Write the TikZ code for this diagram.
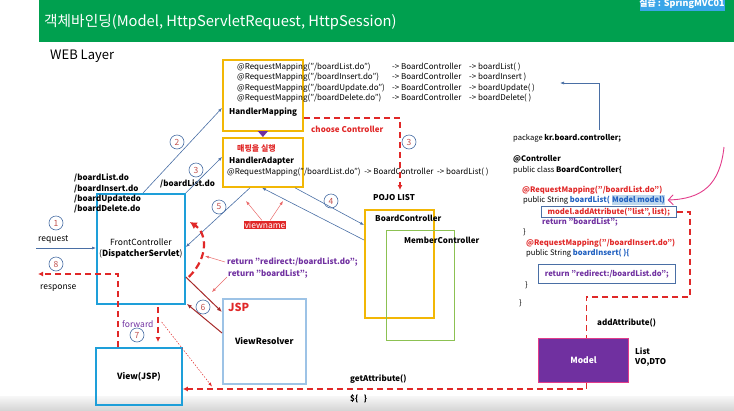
\documentclass[tikz,border=0pt]{standalone}
\usepackage{fontspec}
\setmainfont{Noto Sans CJK KR}
\usepackage{tikz}
\usetikzlibrary{arrows.meta,positioning,calc}
\definecolor{mvcGreen}{HTML}{00A04F}
\definecolor{mvcBadge}{HTML}{3AA5E8}
\definecolor{mvcGold}{HTML}{F2B705}
\definecolor{mvcFront}{HTML}{1E9FD9}
\definecolor{mvcResolver}{HTML}{9DC3E6}
\definecolor{mvcMember}{HTML}{8CC152}
\definecolor{mvcSteel}{HTML}{4A6FA5}
\definecolor{mvcRed}{HTML}{E02828}
\definecolor{mvcDark}{HTML}{A62A2A}
\definecolor{mvcPurple}{HTML}{7030A0}
\definecolor{mvcBlue}{HTML}{2060C0}
\definecolor{mvcPink}{HTML}{E23C8A}
\definecolor{mvcNum}{HTML}{C0504D}
\definecolor{mvcHilite}{HTML}{BDD7EE}
\tikzset{
  txt/.style={anchor=west, inner sep=0pt, font=\fontsize{8}{10}\selectfont},
  btxt/.style={txt, font=\fontsize{8}{10}\selectfont\bfseries},
  code/.style={txt, font=\fontsize{7.6}{10}\selectfont},
  bcode/.style={txt, font=\fontsize{7.6}{10}\selectfont\bfseries},
  box/.style={draw, inner sep=0pt, anchor=north west},
  goldbox/.style={box, draw=mvcGold, line width=1.8pt},
  frontbox/.style={box, draw=mvcFront, line width=1.8pt, font=\fontsize{8.5}{11}\selectfont, align=center},
  resbox/.style={box, draw=mvcResolver, line width=1.5pt, font=\fontsize{8.5}{11}\selectfont\bfseries},
  membox/.style={box, draw=mvcMember, line width=1.4pt},
  modelbox/.style={box, fill=mvcPurple, draw=mvcPink, line width=1pt, text=white, font=\fontsize{8.5}{11}\selectfont\bfseries},
  codebox/.style={draw=mvcSteel, line width=0.6pt, anchor=west, inner xsep=4pt, font=\fontsize{7.6}{10}\selectfont\bfseries},
  num/.style={circle, draw=mvcSteel, line width=0.6pt, minimum size=14pt, inner sep=0pt, text=mvcNum, font=\fontsize{8.5}{9}\selectfont},
  call/.style={-{Latex[length=4pt,width=3pt]}, mvcSteel, line width=0.6pt},
  choose/.style={-{Latex[length=5pt,width=5pt]}, mvcRed, line width=1.3pt, dash pattern=on 6pt off 4pt},
  bigdash/.style={-{Latex[length=7pt,width=8pt]}, mvcRed, line width=2.2pt, dash pattern=on 7pt off 4pt},
  darkarrow/.style={-{Latex[length=5pt,width=4pt]}, mvcDark, line width=1pt},
  hint/.style={-{Latex[length=4pt,width=3pt]}, mvcRed!70, line width=0.5pt},
  dots/.style={-{Latex[length=4pt,width=3pt]}, mvcRed, line width=0.5pt, dash pattern=on 1.5pt off 1.5pt},
}
\begin{document}
\begin{tikzpicture}[x=1pt, y=-1pt]
  \useasboundingbox (0,0) rectangle (734,410);
  \shade[top color=black!3, bottom color=black!16] (0,396) rectangle (734,410);

  % header
  \fill[mvcGreen] (39,0) rectangle (734,42);
  \fill[mvcBadge] (640,0) rectangle (725,11);
  \node[font=\fontsize{9}{9}\selectfont\bfseries, text=white, inner sep=0pt] (badge) at (682,3.5) {실습 : SpringMVC01};
  \node[txt, font=\fontsize{14.7}{15}\selectfont, text=white] (title) at (44,22) {객체바인딩(Model, HttpServletRequest, HttpSession)};
  \node[txt, font=\fontsize{13}{13}\selectfont] (layer) at (50,56) {WEB Layer};

  % handler mapping / adapter
  \node[goldbox, minimum width=80pt, minimum height=71pt] (hm) at (222,59) {};
  \node[goldbox, minimum width=80pt, minimum height=49pt] (ha) at (222,137) {};
  \node[txt] (map1) at (237,67) {\makebox[155pt][l]{@RequestMapping("/boardList.do")}\makebox[77pt][l]{-> BoardController}-> boardList( )};
  \node[txt] (map2) at (237,77.5) {\makebox[155pt][l]{@RequestMapping("/boardInsert.do")}\makebox[77pt][l]{-> BoardController}-> boardInsert )};
  \node[txt] (map3) at (237,88) {\makebox[155pt][l]{@RequestMapping("/boardUpdate.do")}\makebox[77pt][l]{-> BoardController}-> boardUpdate( )};
  \node[txt] (map4) at (237,98.5) {\makebox[155pt][l]{@RequestMapping("/boardDelete.do")}\makebox[77pt][l]{-> BoardController}-> boardDelete( )};
  \node[btxt] (hmlabel) at (229,112) {HandlerMapping};
  \node[btxt, text=mvcRed] (run) at (237,149) {매핑을 실행};
  \node[btxt] (halabel) at (229,161) {HandlerAdapter};
  \node[txt] (hamap) at (227,172) {@RequestMapping("/boardList.do")\ \ -> BoardController\ \ -> boardList( )};
  \draw[-{Triangle[length=6pt,width=10pt]}, mvcPurple, line width=3pt] (hm.south) -- (ha.north);

  % controllers
  \node[btxt] (pojo) at (373,198) {POJO LIST};
  \node[goldbox, minimum width=69pt, minimum height=108pt] (bc) at (364,209) {};
  \node[membox, minimum width=68pt, minimum height=110pt] (mc) at (386,230) {};
  \node[btxt] (bclabel) at (375,218) {BoardController};
  \node[btxt] (mclabel) at (404,240) {MemberController};
  \coordinate (choosetip) at (400,190);
  \draw[choose] ([yshift=-59pt]hm.north east) -| (choosetip);
  \node[btxt, text=mvcRed] (choosetxt) at (311,129) {choose Controller};

  % front controller, resolver, view
  \node[frontbox, minimum width=88pt, minimum height=110pt] (fc) at (96,193) {FrontController\\(\textbf{DispatcherServlet})};
  \node[resbox, minimum width=83pt, minimum height=85pt] (vr) at (222,298) {ViewResolver};
  \node[btxt, text=mvcRed, font=\fontsize{11}{11}\selectfont\bfseries] (jsp) at (228,307) {JSP};
  \node[frontbox, minimum width=86pt, minimum height=57pt, font=\fontsize{8.5}{11}\selectfont\bfseries] (vj) at (95,347) {View(JSP)};
  \node[btxt, align=left, anchor=north west, font=\fontsize{8}{10.3}\selectfont\bfseries] (urls) at (74,174) {/boardList.do\\/boardInsert.do\\/boardUpdatedo\\/boardDelete.do};
  \node[btxt] (listdo) at (160,184) {/boardList.do};

  % request / response
  \coordinate (reqin) at (36,248);
  \coordinate (respout) at (38,274);
  \node[num] (n1) at (56,223) {1};
  \node[txt, font=\fontsize{8.5}{10}\selectfont] (req) at (38,240) {request};
  \draw[call] (reqin) -- ([yshift=-55pt]fc.north west);
  \node[num] (n8) at (56,264) {8};
  \node[txt, font=\fontsize{8.5}{10}\selectfont] (resp) at (40,288) {response};
  \draw[choose] ([xshift=23pt]vj.north west) |- (respout);

  % call flow
  \node[num] (n2) at (177,142) {2};
  \draw[call] ([xshift=47pt]fc.north west) -- ([yshift=-49pt]hm.north west);
  \node[num] (n3) at (196,170) {3};
  \draw[call] (fc.north east) -- ([yshift=-20pt]ha.north west);
  \node[num] (n3b) at (409,142) {3};
  \node[num] (n4) at (331,201) {4};
  \draw[call] ([xshift=73pt]ha.south west) -- ([yshift=-16pt]bc.north west);
  \draw[call] ([yshift=-31pt]bc.north west) -- ([xshift=40pt]ha.south west);
  \node[num] (n5) at (219,207) {5};
  \draw[call] ([xshift=28pt]ha.south west) -- ([yshift=-54pt]fc.north east);
  \node[fill=mvcRed, text=white, inner sep=1pt, font=\fontsize{8.5}{10}\selectfont] (vname) at (265,225) {viewname};
  \draw[hint] ([xshift=-3pt]vname.north) -- (246,201);
  \draw[hint] ([xshift=5pt]vname.north) -- (283,201);

  % returns
  \node[btxt, text=mvcPurple] (ret1) at (227,262) {return "redirect:/boardList.do";};
  \node[btxt, text=mvcPurple] (ret2) at (228,274) {return "boardList";};
  \draw[bigdash] ([xshift=3pt,yshift=-84pt]fc.north east) .. controls (210,256) and (206,232) .. ([xshift=4pt,yshift=-29pt]fc.north east);
  \draw[hint] ([xshift=-2pt]ret1.west) -- (205,256);
  \draw[hint] ([xshift=-1pt,yshift=-3pt]ret2.west) -- (212,292);
  \draw[darkarrow] ([yshift=-84pt]fc.north east) -- ([yshift=-14pt]vr.north west);
  \node[num] (n6) at (203,307) {6};
  \draw[darkarrow] ([yshift=-35pt]vr.north west) -- ([xshift=1pt,yshift=1pt]fc.south east);

  % forward
  \node[txt, text=mvcPurple, font=\fontsize{8.5}{10}\selectfont] (fwd) at (122,324) {forward};
  \node[num] (n7) at (137,335) {7};
  \draw[choose] ([xshift=62pt,yshift=-2pt]fc.south west) -- ([xshift=63pt,yshift=5pt]vj.north west);
  \draw[dots] ([xshift=8pt,yshift=2pt]fwd.east) -- ([xshift=-10pt,yshift=-2pt]vr.south west);

  % controller code
  \node[code] (pkg) at (513,138) {package \textbf{kr.board.controller;}};
  \coordinate (mapin) at (560,83);
  \draw[call] ([xshift=86pt,yshift=4pt]pkg.north west) |- (mapin);
  \node[bcode] (ctrl) at (513,159) {@Controller};
  \node[code] (cls) at (513,170) {public class \textbf{BoardController\{}};
  \node[bcode, text=mvcRed] (rm1) at (522,190) {@RequestMapping("/boardList.do")};
  \node[code] (sig1) at (523,200) {public String \textcolor{mvcBlue}{\bfseries boardList(} {\setlength{\fboxsep}{0.6pt}\colorbox{mvcHilite}{\textcolor{mvcBlue}{\bfseries Model model)}}}};
  \node[codebox, minimum width=135pt, inner ysep=1.5pt, text=mvcRed] (addbox) at (541,212) {model.addAttribute("list", list);};
  \node[bcode, text=mvcPurple] (ret3) at (542,222) {return "boardList";};
  \node[code] (br1) at (523,232) {\}};
  \node[bcode, text=mvcRed] (rm2) at (526,243) {@RequestMapping("/boardInsert.do")};
  \node[code] (sig2) at (526,253) {public String \textcolor{mvcBlue}{\bfseries boardInsert( )\{}};
  \node[codebox, minimum width=137pt, minimum height=19pt, text=mvcPurple] (redirbox) at (538,274) {return "redirect:/boardList.do";};
  \node[code] (br2) at (525,285) {\}};
  \node[code] (br3) at (519,303) {\}};
  \coordinate (pinkfrom) at (724,147);
  \draw[-{Straight Barb[length=5pt]}, mvcPink, line width=0.9pt] (pinkfrom) .. controls (720,185) and (702,199) .. ([xshift=2pt]sig1.east);

  % model
  \node[modelbox, minimum width=90pt, minimum height=44pt] (model) at (538,338) {Model};
  \node[btxt, align=left, anchor=north west, font=\fontsize{8}{10}\selectfont\bfseries] (vo) at (635,348) {List\\VO,DTO};
  \node[btxt] (addattr) at (597,323) {addAttribute()};
  \draw[choose, -] (addbox.east) -| (690,297) -| ([xshift=3pt]model.north);
  \draw[choose] ([xshift=3pt]model.south) |- ([yshift=-42pt]vj.north east);
  \node[btxt] (getattr) at (350,379) {getAttribute()};
  \node[btxt] (el) at (350,399) {\$\{\ \ \ \}};
\end{tikzpicture}
\end{document}
